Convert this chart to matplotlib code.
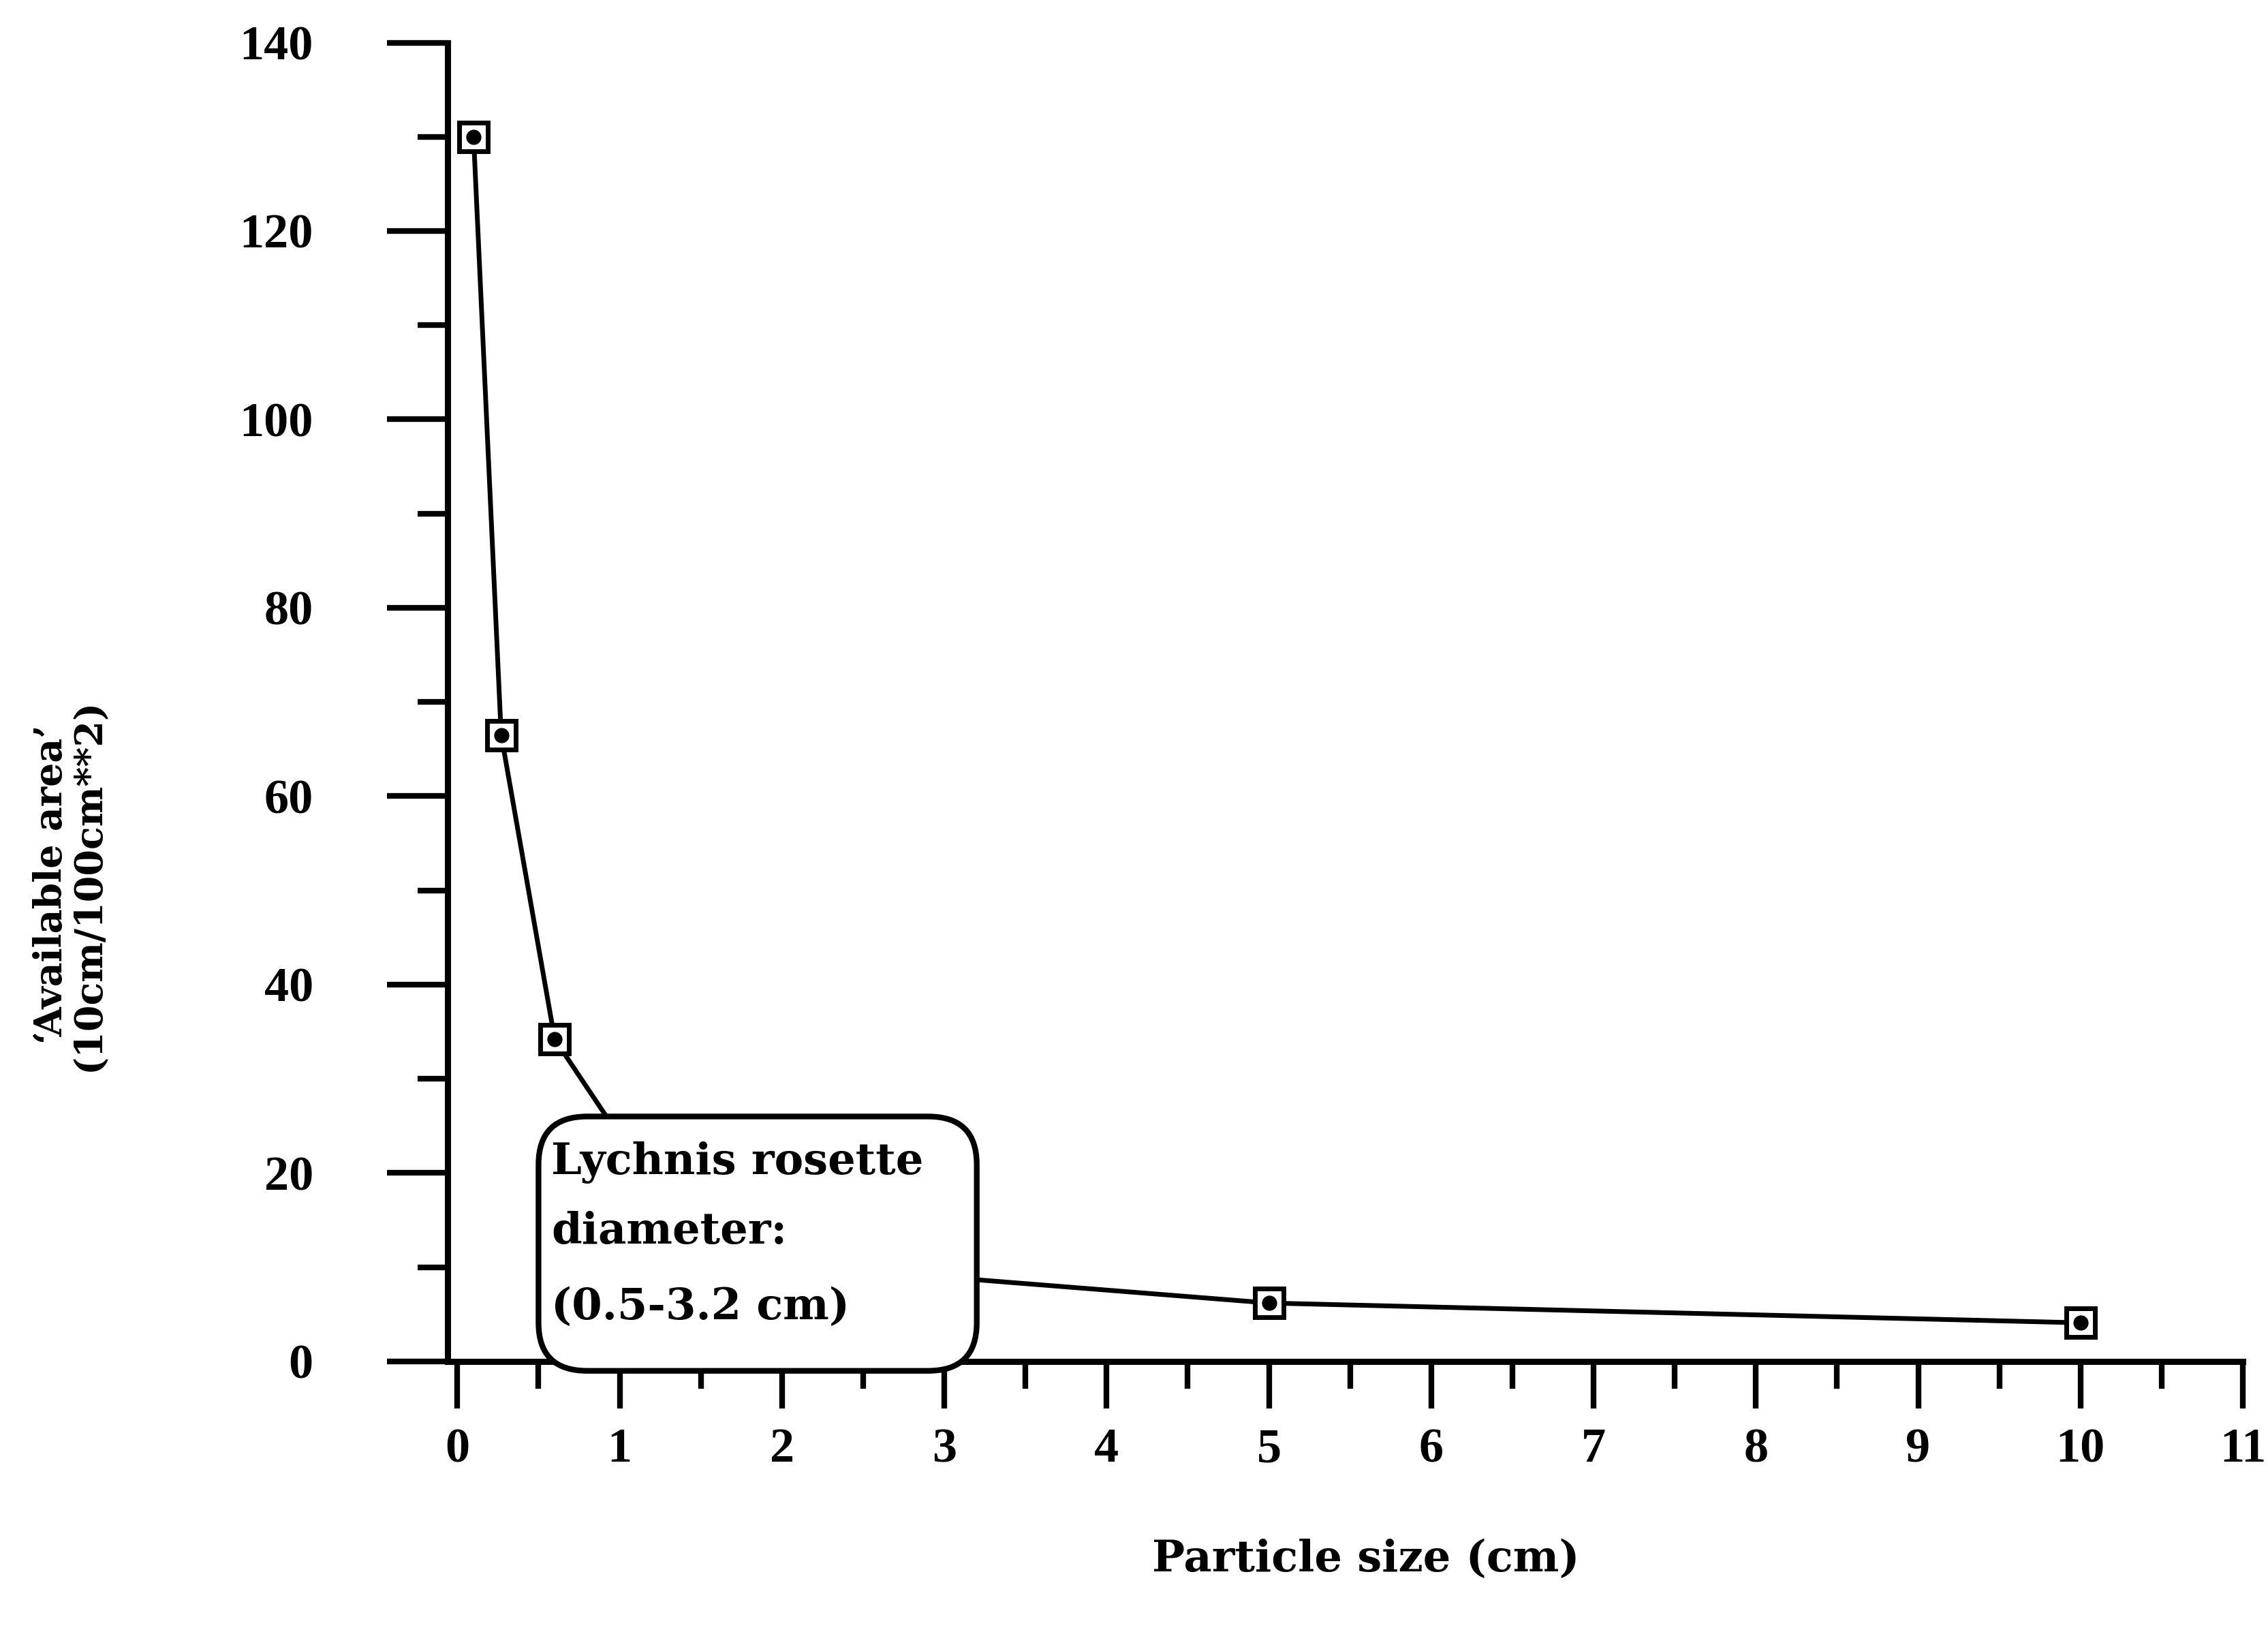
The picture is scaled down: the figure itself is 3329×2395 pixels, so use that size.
# Available area vs particle size, with the Lychnis rosette diameter range boxed
import matplotlib
matplotlib.use("Agg")
import matplotlib.pyplot as plt
from matplotlib.patches import FancyBboxPatch

# Data
particle_size = [0.1, 0.27, 0.6, 1.5, 5, 10]
available_area = [130, 66.5, 34.2, 11, 6.2, 4.1]

x_major = list(range(0, 12))
y_major = list(range(0, 141, 20))
y_minor = list(range(10, 140, 20))
x_minor = [v + 0.5 for v in range(0, 11)]

box_text = ["Lychnis rosette", "diameter:", "(0.5-3.2 cm)"]
rosette_range = (0.5, 3.2)

plt.rcParams['font.family'] = ['Liberation Serif', 'DejaVu Serif']
plt.rcParams['font.weight'] = 'bold'

fig = plt.figure(figsize=(33.3, 23.95), dpi=100)
ax = fig.add_axes([0.1973, 0.1658, 0.7913, 0.8081])

ax.plot(particle_size, available_area, color='black', lw=5, zorder=3)
ax.plot(particle_size, available_area, ls='none', marker='s', ms=30,
        mfc='white', mec='black', mew=5, zorder=4)
ax.plot(particle_size, available_area, ls='none', marker='o', ms=15,
        mfc='black', mec='black', zorder=4.5)

ax.set_xlim(-0.06, 11)
ax.set_ylim(0, 140)

for s in ['top', 'right']:
    ax.spines[s].set_visible(False)
for s in ['left', 'bottom']:
    ax.spines[s].set_linewidth(6.5)

ax.set_xticks(x_major)
ax.set_xticks(x_minor, minor=True)
ax.set_yticks(y_major)
ax.set_yticks(y_minor, minor=True)
ax.tick_params(axis='y', which='major', length=64, width=6, pad=78, labelsize=52)
ax.tick_params(axis='y', which='minor', length=32, width=6)
ax.tick_params(axis='x', which='major', length=50, width=6, pad=20, labelsize=52)
ax.tick_params(axis='x', which='minor', length=29, width=6)
for lab in ax.get_xticklabels() + ax.get_yticklabels():
    lab.set_fontweight('bold')

# rounded annotation box spanning the rosette diameter range
box = FancyBboxPatch((rosette_range[0], -1), rosette_range[1] - rosette_range[0], 27,
                     boxstyle="round,pad=0,rounding_size=0.3", mutation_aspect=17,
                     facecolor='white', edgecolor='black', lw=6, zorder=5, clip_on=False)
ax.add_patch(box)
for txt, yb in zip(box_text, [19.9, 12.5, 4.5]):
    ax.text(0.58, yb, txt, fontsize=46, fontweight='bold', family='DejaVu Serif',
            ha='left', va='baseline', zorder=6)

fig.text(0.602, 0.0443, "Particle size (cm)", fontsize=46, fontweight='bold',
         family='DejaVu Serif', ha='center', va='center')
fig.text(0.031, 0.458, "\u2018Available area\u2019\n(10cm/100cm**2)", rotation=90,
         fontsize=40, fontweight='bold', family='DejaVu Serif',
         ha='center', va='center', linespacing=1.0)

fig.savefig('out.png', dpi=100)
